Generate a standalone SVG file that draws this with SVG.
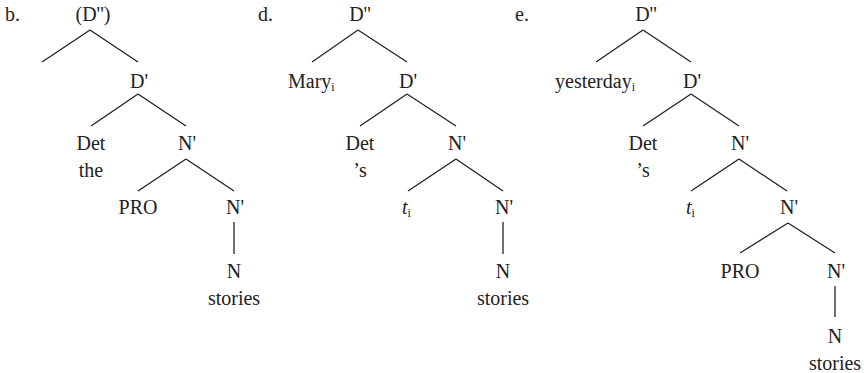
<svg xmlns="http://www.w3.org/2000/svg" width="864" height="373" viewBox="0 0 864 373">
<style>
text{font-family:'Liberation Serif','Times New Roman','DejaVu Serif',serif;font-size:20px;fill:#222;}
.c{text-anchor:middle;}
.sub{font-size:12px;}
.it{font-style:italic;}
#connectors line{stroke:#222;stroke-width:1.3;}
</style>
<rect width="864" height="373" fill="#fff"/>
<g id="connectors">
<line x1="90" y1="30" x2="42" y2="62"/>
<line x1="90" y1="30" x2="138" y2="62"/>
<line x1="138" y1="94" x2="91" y2="126"/>
<line x1="138" y1="94" x2="186" y2="126"/>
<line x1="186" y1="159" x2="138" y2="191"/>
<line x1="186" y1="159" x2="234" y2="191"/>
<line x1="234" y1="222" x2="234" y2="254"/>
<line x1="358" y1="30" x2="312" y2="62"/>
<line x1="358" y1="30" x2="407" y2="62"/>
<line x1="407" y1="94" x2="360" y2="126"/>
<line x1="407" y1="94" x2="456" y2="126"/>
<line x1="456" y1="159" x2="408" y2="191"/>
<line x1="456" y1="159" x2="503" y2="191"/>
<line x1="503" y1="222" x2="503" y2="254"/>
<line x1="643" y1="30" x2="596" y2="62"/>
<line x1="643" y1="30" x2="691" y2="62"/>
<line x1="691" y1="94" x2="643" y2="126"/>
<line x1="691" y1="94" x2="739" y2="126"/>
<line x1="739" y1="159" x2="691" y2="191"/>
<line x1="739" y1="159" x2="787" y2="191"/>
<line x1="788" y1="223" x2="740" y2="253"/>
<line x1="788" y1="223" x2="835" y2="253"/>
<line x1="835" y1="286" x2="835" y2="317"/>
</g>
<g id="labels">
<text x="5" y="21">b.</text>
<text x="258" y="21">d.</text>
<text x="515" y="21">e.</text>
</g>
<g id="b-Dpp"><text class="c" x="93" y="21">(D'')</text></g>
<g id="b-Dp"><text class="c" x="139" y="88">D'</text></g>
<g id="b-Det"><text class="c" x="91" y="150">Det</text><text class="c" x="91" y="177">the</text></g>
<g id="b-Np1"><text class="c" x="187" y="150">N'</text></g>
<g id="b-PRO"><text class="c" x="138" y="214">PRO</text></g>
<g id="b-Np2"><text class="c" x="235" y="214">N'</text></g>
<g id="b-N"><text class="c" x="234" y="278">N</text><text class="c" x="234" y="305">stories</text></g>
<g id="d-Dpp"><text class="c" x="360" y="21">D''</text></g>
<g id="d-Mary"><text x="288" y="88">Mary<tspan class="sub" dy="3">i</tspan></text></g>
<g id="d-Dp"><text class="c" x="408" y="88">D'</text></g>
<g id="d-Det"><text class="c" x="360" y="150">Det</text><text class="c" x="360" y="177">’s</text></g>
<g id="d-Np1"><text class="c" x="457" y="150">N'</text></g>
<g id="d-t"><text x="402" y="214"><tspan class="it">t</tspan><tspan class="sub" dy="3">i</tspan></text></g>
<g id="d-Np2"><text class="c" x="504" y="214">N'</text></g>
<g id="d-N"><text class="c" x="503" y="278">N</text><text class="c" x="503" y="305">stories</text></g>
<g id="e-Dpp"><text class="c" x="646" y="21">D''</text></g>
<g id="e-yesterday"><text x="555" y="88">yesterday<tspan class="sub" dy="3">i</tspan></text></g>
<g id="e-Dp"><text class="c" x="692" y="88">D'</text></g>
<g id="e-Det"><text class="c" x="643" y="150">Det</text><text class="c" x="643" y="177">’s</text></g>
<g id="e-Np1"><text class="c" x="740" y="150">N'</text></g>
<g id="e-t"><text x="686" y="214"><tspan class="it">t</tspan><tspan class="sub" dy="3">i</tspan></text></g>
<g id="e-Np2"><text class="c" x="789" y="214">N'</text></g>
<g id="e-PRO"><text class="c" x="740" y="278">PRO</text></g>
<g id="e-Np3"><text class="c" x="836" y="278">N'</text></g>
<g id="e-N"><text class="c" x="835" y="343">N</text><text class="c" x="835" y="370">stories</text></g>
</svg>
